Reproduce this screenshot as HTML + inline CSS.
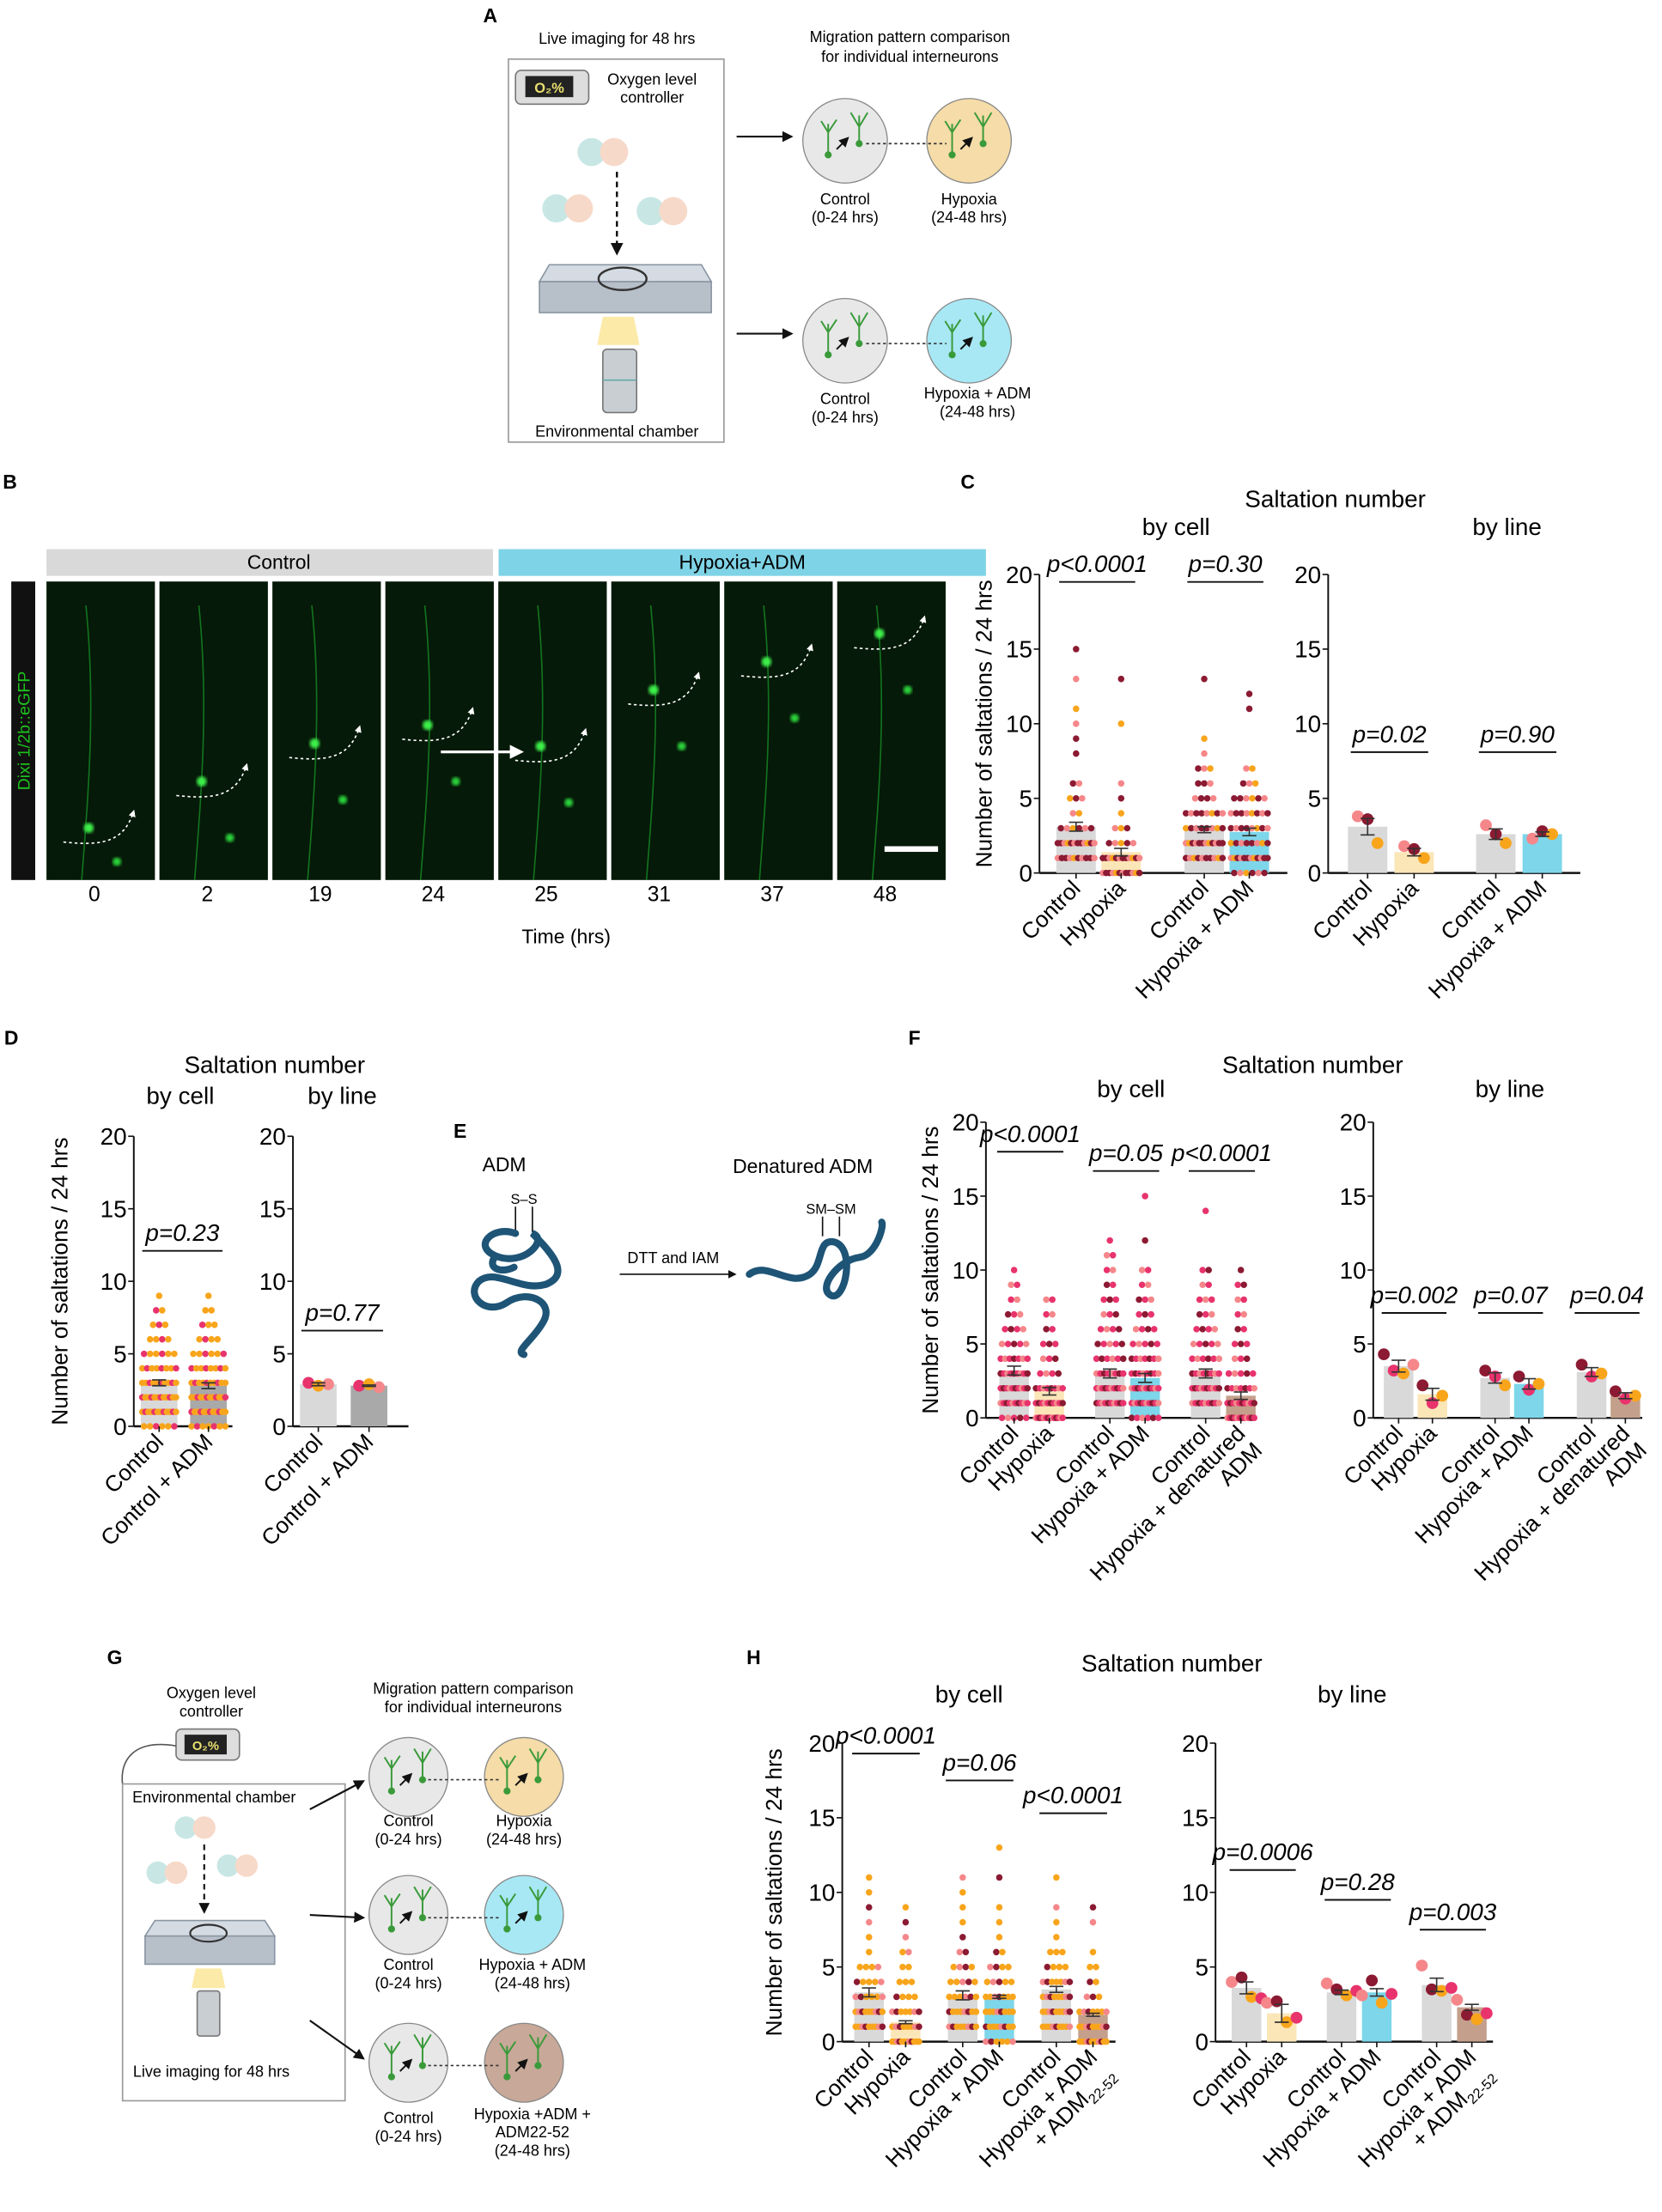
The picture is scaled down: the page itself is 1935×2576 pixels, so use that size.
<!DOCTYPE html>
<html><head><meta charset="utf-8">
<style>
html,body{margin:0;padding:0;background:#fff;}
svg{display:block;font-family:"Liberation Sans",Arial,sans-serif;}
</style></head>
<body>
<svg id="fig" width="1935" height="2576" viewBox="0 0 1180 1571" preserveAspectRatio="none" xmlns="http://www.w3.org/2000/svg">
<defs>
<filter id="blur1"><feGaussianBlur stdDeviation="1.2"/></filter>
<marker id="ah" markerWidth="6" markerHeight="6" refX="5" refY="3" orient="auto"><path d="M0,0 L6,3 L0,6 z" fill="#111"/></marker>
<marker id="ahw" markerWidth="5" markerHeight="5" refX="4" refY="2.5" orient="auto"><path d="M0,0 L5,2.5 L0,5 z" fill="#fff"/></marker>
</defs>

<!-- Panel A -->
<g>
<text x="343" y="16" font-size="14" font-weight="bold">A</text>
<text x="438" y="31" font-size="11" text-anchor="middle">Live imaging for 48 hrs</text>
<rect x="361" y="42" width="153" height="272" fill="#fff" stroke="#999" stroke-width="1"/>
<rect x="366" y="50" width="52" height="24" rx="4" fill="#ddd" stroke="#777"/>
<rect x="373" y="54" width="34" height="15" fill="#222"/>
<text x="390" y="66" font-size="10" fill="#e8e070" text-anchor="middle" font-weight="bold">O₂%</text>
<text x="463" y="60" font-size="11" text-anchor="middle">Oxygen level</text>
<text x="463" y="73" font-size="11" text-anchor="middle">controller</text>
<g opacity="0.85">
<circle cx="420" cy="108" r="10" fill="#bfe3e0"/><circle cx="436" cy="108" r="10" fill="#f6d3c0"/>
<circle cx="395" cy="148" r="10" fill="#bfe3e0"/><circle cx="411" cy="148" r="10" fill="#f6d3c0"/>
<circle cx="462" cy="150" r="10" fill="#bfe3e0"/><circle cx="478" cy="150" r="10" fill="#f6d3c0"/>
</g>
<line x1="438" y1="122" x2="438" y2="180" stroke="#111" stroke-width="1.5" stroke-dasharray="4,3" marker-end="url(#ah)"/>
<path d="M383,200 L505,200 L505,222 L383,222 z" fill="#b7bfc9" stroke="#8a96a3"/>
<path d="M390,188 L498,188 L505,200 L383,200 z" fill="#d5dbe2" stroke="#8a96a3"/>
<ellipse cx="442" cy="198" rx="17" ry="8" fill="none" stroke="#333" stroke-width="1.5"/>
<path d="M428,225 L450,225 L454,245 L424,245 z" fill="#fbeaa8"/>
<rect x="428" y="248" width="24" height="45" rx="3" fill="#c9ced3" stroke="#777"/>
<line x1="428" y1="270" x2="452" y2="270" stroke="#6aa"/>
<text x="438" y="310" font-size="11" text-anchor="middle">Environmental chamber</text>
<line x1="523" y1="97" x2="562" y2="97" stroke="#111" stroke-width="1.3" marker-end="url(#ah)"/>
<line x1="523" y1="237" x2="562" y2="237" stroke="#111" stroke-width="1.3" marker-end="url(#ah)"/>
<text x="646" y="30" font-size="11" text-anchor="middle">Migration pattern comparison</text>
<text x="646" y="44" font-size="11" text-anchor="middle">for individual interneurons</text>
<g id="aCircles"></g>
</g>

<!-- Panel B -->
<g>
<text x="2" y="347" font-size="14" font-weight="bold">B</text>
<rect x="33" y="390" width="317" height="19" fill="#d9d9d9"/>
<text x="198" y="404" font-size="14" text-anchor="middle">Control</text>
<rect x="354" y="390" width="346" height="19" fill="#7fd3e6"/>
<text x="527" y="404" font-size="14" text-anchor="middle">Hypoxia+ADM</text>
<rect x="8" y="413" width="17" height="212" fill="#111"/>
<text transform="translate(21,519) rotate(-90)" font-size="12" fill="#1dc11d" text-anchor="middle">Dixi 1/2b::eGFP</text>
<g id="micro"></g>
<text x="402" y="670" font-size="14" text-anchor="middle">Time (hrs)</text>
</g>

<!-- Panel E -->
<g>
<text x="322" y="808" font-size="14" font-weight="bold">E</text>
<text x="358" y="832" font-size="14" text-anchor="middle">ADM</text>
<text x="372" y="855" font-size="10" text-anchor="middle">S–S</text>
<line x1="366" y1="857" x2="366" y2="875" stroke="#111"/><line x1="378" y1="857" x2="378" y2="875" stroke="#111"/>
<path d="M366,876 C350,870 335,885 352,892 C372,900 390,880 378,876 C392,890 405,905 388,912 C370,918 352,900 340,910 C330,920 345,935 360,925 C375,915 395,925 385,940 C378,952 365,960 372,962 M352,892 C345,900 355,905 365,900" fill="none" stroke="#1e5476" stroke-width="5" stroke-linecap="round"/>
<line x1="440" y1="905" x2="522" y2="905" stroke="#111" stroke-width="1" marker-end="url(#ah)"/>
<text x="478" y="897" font-size="11" text-anchor="middle">DTT and IAM</text>
<text x="570" y="833" font-size="14" text-anchor="middle">Denatured ADM</text>
<text x="590" y="862" font-size="10" text-anchor="middle">SM–SM</text>
<line x1="584" y1="864" x2="584" y2="878" stroke="#111"/><line x1="596" y1="864" x2="596" y2="878" stroke="#111"/>
<path d="M532,905 C545,895 560,915 575,905 C585,898 580,880 592,882 C608,886 600,925 590,920 C580,915 595,895 610,893 C622,892 628,870 626,868" fill="none" stroke="#1e5476" stroke-width="5" stroke-linecap="round"/>
</g>

<!-- Panel G -->
<g>
<text x="76" y="1182" font-size="14" font-weight="bold">G</text>
<text x="150" y="1206" font-size="11" text-anchor="middle">Oxygen level</text>
<text x="150" y="1219" font-size="11" text-anchor="middle">controller</text>
<rect x="125" y="1228" width="45" height="22" rx="4" fill="#ddd" stroke="#777"/>
<rect x="131" y="1232" width="30" height="14" fill="#222"/>
<text x="146" y="1243" font-size="9" fill="#e8e070" text-anchor="middle" font-weight="bold">O₂%</text>
<path d="M125,1240 C95,1235 85,1250 87,1267" fill="none" stroke="#555"/>
<rect x="87" y="1267" width="158" height="225" fill="#fff" stroke="#999"/>
<text x="152" y="1280" font-size="11" text-anchor="middle">Environmental chamber</text>
<g opacity="0.85">
<circle cx="132" cy="1298" r="8" fill="#bfe3e0"/><circle cx="145" cy="1298" r="8" fill="#f6d3c0"/>
<circle cx="112" cy="1330" r="8" fill="#bfe3e0"/><circle cx="125" cy="1330" r="8" fill="#f6d3c0"/>
<circle cx="162" cy="1325" r="8" fill="#bfe3e0"/><circle cx="175" cy="1325" r="8" fill="#f6d3c0"/>
</g>
<line x1="145" y1="1310" x2="145" y2="1358" stroke="#111" stroke-width="1.3" stroke-dasharray="4,3" marker-end="url(#ah)"/>
<path d="M103,1375 L195,1375 L195,1395 L103,1395 z" fill="#b7bfc9" stroke="#8a96a3"/>
<path d="M110,1364 L188,1364 L195,1375 L103,1375 z" fill="#d5dbe2" stroke="#8a96a3"/>
<ellipse cx="148" cy="1373" rx="13" ry="6" fill="none" stroke="#333" stroke-width="1.3"/>
<path d="M139,1398 L157,1398 L160,1412 L136,1412 z" fill="#fbeaa8"/>
<rect x="140" y="1414" width="16" height="32" rx="2" fill="#c9ced3" stroke="#777"/>
<text x="150" y="1475" font-size="11" text-anchor="middle">Live imaging for 48 hrs</text>
<line x1="220" y1="1285" x2="258" y2="1265" stroke="#111" stroke-width="1.3" marker-end="url(#ah)"/>
<line x1="220" y1="1360" x2="258" y2="1362" stroke="#111" stroke-width="1.3" marker-end="url(#ah)"/>
<line x1="220" y1="1435" x2="258" y2="1462" stroke="#111" stroke-width="1.3" marker-end="url(#ah)"/>
<text x="336" y="1203" font-size="11" text-anchor="middle">Migration pattern comparison</text>
<text x="336" y="1216" font-size="11" text-anchor="middle">for individual interneurons</text>
<g id="gCircles"></g>
</g>

<g id="charts"></g>
</svg>

<script>
// ---------- Data: Panel C ----------
const cCellCats = ["Control","Hypoxia","Control","Hypoxia + ADM"];
const cCellMeans = [3.1, 1.4, 2.9, 2.75];
const cCellSem = [0.3, 0.25, 0.2, 0.25];
const cCellCounts = [
 [0,10,12,6,2,3,2,0,1,1,1,1,0,1,0,1],
 [12,12,5,3,1,1,1,0,0,0,1,0,0,1],
 [0,10,12,8,8,4,3,3,1,1,0,0,0,1],
 [6,12,8,8,8,6,3,2,0,0,0,1,1]
];
const cLineCats = ["Control","Hypoxia","Control","Hypoxia + ADM"];
const cLineMeans = [3.1, 1.4, 2.6, 2.6];
const cLineSem = [0.55, 0.25, 0.35, 0.15];
const cLineDots = [[3.8,3.6,2.0],[1.8,1.6,1.0],[3.2,2.6,2.0],[2.3,2.8,2.6]];
const cCellP = ["p<0.0001","p=0.30"];
const cCellPY = [19.5, 19.5];
const cLineP = ["p=0.02","p=0.90"];
const cLinePY = [8.1, 8.1];
// ---------- Data: Panel D ----------
const dCellCats = ["Control","Control + ADM"];
const dCellMeans = [3.0, 2.8];
const dCellSem = [0.2, 0.2];
const dCellCounts = [[6,12,12,10,8,6,4,3,2,1],[7,12,12,10,8,6,4,3,2,1]];
const dLineCats = ["Control","Control + ADM"];
const dLineMeans = [2.9, 2.8];
const dLineSem = [0.1, 0.05];
const dLineDots = [[3.0,2.8,2.9],[2.8,2.9,2.7]];
const dCellP = ["p=0.23"]; const dCellPY = [12.1];
const dLineP = ["p=0.77"]; const dLinePY = [6.6];
// ---------- Data: Panel F ----------
const fCellCats = ["Control","Hypoxia","Control","Hypoxia + ADM","Control","Hypoxia + denatured\nADM"];
const fCellMeans = [3.2, 1.8, 3.0, 2.7, 3.0, 1.5];
const fCellSem = [0.3, 0.25, 0.3, 0.3, 0.3, 0.25];
const fCellCounts = [
 [5,10,10,9,7,5,4,3,2,2,1],
 [14,10,8,4,3,3,2,2,2],
 [0,10,10,8,6,5,4,3,3,2,2,2,1],
 [6,10,10,8,7,5,4,3,3,2,2,0,1,0,0,1],
 [0,9,10,8,6,5,4,3,3,2,2,0,0,0,1],
 [12,10,7,5,3,3,2,2,2,2,1]
];
const fLineCats = ["Control","Hypoxia","Control","Hypoxia + ADM","Control","Hypoxia + denatured\nADM"];
const fLineMeans = [3.5, 1.6, 2.7, 2.3, 3.1, 1.5];
const fLineSem = [0.4, 0.4, 0.35, 0.35, 0.3, 0.2];
const fLineDots = [[4.3,3.2,3.0,3.6],[2.2,1.0,1.5],[3.2,2.8,2.2],[2.8,1.9,2.3],[3.6,2.8,3.0],[1.8,1.3,1.5]];
const fCellP = ["p<0.0001","p=0.05","p<0.0001"]; const fCellPY = [18.0,16.7,16.7];
const fLineP = ["p=0.002","p=0.07","p=0.04"]; const fLinePY = [7.1,7.1,7.1];
// ---------- Data: Panel H ----------
const hCellCats = ["Control","Hypoxia","Control","Hypoxia + ADM","Control","Hypoxia + ADM\n+ ADM22-52"];
const hCellMeans = [3.3, 1.3, 3.1, 3.0, 3.5, 1.8];
const hCellSem = [0.3, 0.1, 0.3, 0.1, 0.2, 0.1];
const hCellCounts = [
 [0,9,9,6,5,4,1,1,1,1,1,1],
 [12,8,7,4,3,2,2,1,1,1],
 [0,8,8,6,5,4,2,1,1,1,1,1],
 [6,8,8,7,5,4,2,1,1,1,0,1,0,1],
 [0,9,9,8,7,4,3,1,1,1,0,1],
 [12,9,7,3,2,2,1,0,1,1]
];
const hLineCats = hCellCats;
const hLineMeans = [3.6, 1.9, 3.3, 3.3, 3.8, 2.3];
const hLineSem = [0.4, 0.6, 0.15, 0.25, 0.45, 0.2];
const hLineDots = [[4.0,4.3,3.0,2.9],[2.6,2.7,1.3,1.6],[3.9,3.5,3.1,3.4],[3.1,4.1,2.6,3.2],[5.1,3.5,3.4,3.6],[2.8,1.8,1.5,1.9]];
const hCellP = ["p<0.0001","p=0.06","p<0.0001"]; const hCellPY = [19.3,17.5,15.3];
const hLineP = ["p=0.0006","p=0.28","p=0.003"]; const hLinePY = [11.5,9.5,7.5];

const NS = "http://www.w3.org/2000/svg";
const root = document.getElementById('charts');
function mk(tag, attrs, parent){
  const e = document.createElementNS(NS, tag);
  for (const k in attrs) e.setAttribute(k, attrs[k]);
  (parent||root).appendChild(e); return e;
}
const GRAY="#d9d9d9", TAN="#fbe6b8", CYAN="#7dd6ea", BROWN="#c4a08c";
const MAROON="#8b1a32", SALMON="#f5878a", ORANGE="#f8a51c", HOT="#e8336d";

function drawChart(name, L, cats, means, sems, counts, dots, pTexts, pY, barColors, palette){
  const g = mk('g', {});
  
  
  const yS = v => L.y0 - v*(L.y0-L.y20)/20;
  const xS = i => L.x1 + Math.floor(i/2)*L.pair + (i%2)*L.within;
  const ya = mk('line',{x1:L.ax,y1:L.y20,x2:L.ax,y2:L.y0,stroke:'#111','stroke-width':1.2},g);
   
  const xa = mk('line',{x1:L.ax,y1:L.y0,x2:L.xEnd,y2:L.y0,stroke:'#111','stroke-width':1.5},g);
   
  [0,5,10,15,20].forEach(t=>{
    mk('line',{x1:L.ax-4,y1:yS(t),x2:L.ax,y2:yS(t),stroke:'#111'},g);
    const tx = mk('text',{x:L.ax-5,y:yS(t)+6,'font-size':17,'text-anchor':'end'},g);
    tx.textContent = t;
     
  });
  if (L.ytitle){
    const yt = mk('text',{transform:`translate(${L.ytitle},${(L.y0+L.y20)/2}) rotate(-90)`,'font-size':16,'text-anchor':'middle'},g);
    yt.textContent = "Number of saltations / 24 hrs";
     
  }
  cats.forEach((c,i)=>{
    const x = xS(i);
    const b = mk('rect',{x:x-L.bw/2,y:yS(means[i]),width:L.bw,height:L.y0-yS(means[i]),fill:barColors[i]},g);
    
    
    if (counts){
      counts[i].forEach((n,v)=>{
        if(!n) return;
        const sp = Math.min(4.3, (L.bw-2)/Math.max(n-1,1));
        for(let k=0;k<n;k++){
          const dx = (k-(n-1)/2)*sp;
          const d = mk('circle',{cx:x+dx,cy:yS(v),r:2.3,fill:palette[(k+v+i)%palette.length]},g);
           
        }
      });
    } else {
      const n = dots[i].length;
      dots[i].forEach((v,k)=>{
        const dx = (k-(n-1)/2)*7;
        const d = mk('circle',{cx:x+dx,cy:yS(v),r:4.2,fill:palette[k%palette.length]},g);
         
      });
    }
    const m=means[i], s=sems[i];
    mk('line',{x1:x,y1:yS(m-s),x2:x,y2:yS(m+s),stroke:'#333','stroke-width':1},g);
    mk('line',{x1:x-5,y1:yS(m+s),x2:x+5,y2:yS(m+s),stroke:'#333','stroke-width':1},g);
    mk('line',{x1:x-5,y1:yS(m-s),x2:x+5,y2:yS(m-s),stroke:'#333','stroke-width':1},g);
    mk('line',{x1:x,y1:L.y0,x2:x,y2:L.y0+4,stroke:'#111'},g);
    const parts = c.split("\n");
    const t = mk('text',{transform:`translate(${x+4},${L.y0+12}) rotate(-45)`,'font-size':16,'text-anchor':'end'},g);
     
    parts.forEach((p,pi)=>{
      const ts = mk('tspan',{x:0,dy:pi?17:0},t);
      const mm = p.match(/^(.*ADM)(22-52)$/);
      if(mm){ ts.textContent = mm[1]; const sub = mk('tspan',{'font-size':10,dy:4},t); sub.textContent = mm[2]; }
      else ts.textContent = p;
    });
  });
  pTexts.forEach((p,j)=>{
    const xa1 = xS(2*j)-12, xa2 = xS(2*j+1)+10, yy = yS(pY[j]);
    mk('line',{x1:xa1,y1:yy,x2:xa2,y2:yy,stroke:'#111','stroke-width':1.2},g);
    const pt = mk('text',{x:(xa1+xa2)/2,y:yy-7,'font-size':17,'font-style':'italic','text-anchor':'middle'},g);
    pt.textContent = p;
     
  });
}

function title(x,y,txt,size,bold){
  const t = mk('text',{x:x,y:y,'font-size':size,'text-anchor':bold?'start':'middle','font-weight':bold?'bold':'normal'});
  t.textContent = txt;
  
  
}
title(682,347,"C",14,true);
title(948,360,"Saltation number",17);
title(835,380,"by cell",17); title(1070,380,"by line",17);
drawChart('chart-c-by-cell',{ax:738,y0:620,y20:408,x1:764,within:32,pair:91,bw:28,xEnd:914,ytitle:704},cCellCats,cCellMeans,cCellSem,cCellCounts,null,cCellP,cCellPY,[GRAY,TAN,GRAY,CYAN],[MAROON,SALMON,MAROON,MAROON,SALMON,ORANGE]);
drawChart('chart-c-by-line',{ax:943,y0:620,y20:408,x1:971,within:33,pair:91,bw:28,xEnd:1122},cLineCats,cLineMeans,cLineSem,null,cLineDots,cLineP,cLinePY,[GRAY,TAN,GRAY,CYAN],[SALMON,MAROON,ORANGE]);
title(3,742,"D",14,true);
title(195,762,"Saltation number",17);
title(128,784,"by cell",17); title(243,784,"by line",17);
drawChart('chart-d-by-cell',{ax:95,y0:1013,y20:807,x1:113,within:35,pair:70,bw:26,xEnd:165,ytitle:48},dCellCats,dCellMeans,dCellSem,dCellCounts,null,dCellP,dCellPY,[GRAY,"#a9a9a9"],[ORANGE,ORANGE,HOT]);
drawChart('chart-d-by-line',{ax:208,y0:1013,y20:807,x1:226,within:36,pair:70,bw:26,xEnd:290},dLineCats,dLineMeans,dLineSem,null,dLineDots,dLineP,dLinePY,[GRAY,"#a9a9a9"],[HOT,ORANGE,SALMON]);
title(645,742,"F",14,true);
title(932,762,"Saltation number",17);
title(803,779,"by cell",17); title(1072,779,"by line",17);
drawChart('chart-f-by-cell',{ax:700,y0:1007,y20:797,x1:720,within:25,pair:68,bw:21,xEnd:892,ytitle:666},fCellCats,fCellMeans,fCellSem,fCellCounts,null,fCellP,fCellPY,[GRAY,TAN,GRAY,CYAN,GRAY,BROWN],[HOT,SALMON,HOT,MAROON]);
drawChart('chart-f-by-line',{ax:975,y0:1007,y20:797,x1:993,within:24,pair:68.5,bw:21,xEnd:1166},fLineCats,fLineMeans,fLineSem,null,fLineDots,fLineP,fLinePY,[GRAY,TAN,GRAY,CYAN,GRAY,BROWN],[MAROON,HOT,ORANGE,SALMON]);
title(530,1182,"H",14,true);
title(832,1187,"Saltation number",17);
title(688,1209,"by cell",17); title(960,1209,"by line",17);
drawChart('chart-h-by-cell',{ax:598,y0:1450,y20:1238,x1:617,within:26,pair:66.5,bw:21,xEnd:792,ytitle:555},hCellCats,hCellMeans,hCellSem,hCellCounts,null,hCellP,hCellPY,[GRAY,TAN,GRAY,CYAN,GRAY,BROWN],[ORANGE,ORANGE,ORANGE,SALMON,MAROON]);
drawChart('chart-h-by-line',{ax:863,y0:1450,y20:1238,x1:885,within:25,pair:67.5,bw:21,xEnd:1060},hLineCats,hLineMeans,hLineSem,null,hLineDots,hLineP,hLinePY,[GRAY,TAN,GRAY,CYAN,GRAY,BROWN],[SALMON,MAROON,ORANGE,HOT]);

const micro = document.getElementById('micro');
const times = ["0","2","19","24","25","31","37","48"];
const somaY = [598,565,538,525,540,500,480,460];
times.forEach((t,i)=>{
  const x = 33 + i*80.2;
  const r = mk('rect',{x:x,y:413,width:77,height:212,fill:'#051a08'},micro);
   
  mk('path',{d:`M${x+25},${625} C${x+30},560 ${x+35},500 ${x+28},${430}`,stroke:'#1a9a2a','stroke-width':1,fill:'none',opacity:0.7},micro);
  mk('circle',{cx:x+30,cy:somaY[i]-10,r:3.5,fill:'#3df04a',filter:'url(#blur1)'},micro);
  mk('circle',{cx:x+50,cy:Math.min(somaY[i]+30,612),r:3,fill:'#2bd43a',filter:'url(#blur1)'},micro);
  mk('path',{d:`M${x+12},${somaY[i]} C${x+40},${somaY[i]+3} ${x+55},${somaY[i]} ${x+62},${somaY[i]-22}`,stroke:'#fff','stroke-width':1,'stroke-dasharray':'2,2',fill:'none','marker-end':'url(#ahw)'},micro);
  const tl = mk('text',{x:x+34,y:640,'font-size':15,'text-anchor':'middle'},micro);
  tl.textContent = t;
   
});
mk('line',{x1:313,y1:534,x2:370,y2:534,stroke:'#fff','stroke-width':2,'marker-end':'url(#ahw)'},micro);
mk('rect',{x:628,y:601,width:38,height:4,fill:'#fff'},micro);

function neuronCircle(parent,cx,cy,r,fill){
  mk('circle',{cx:cx,cy:cy,r:r,fill:fill,stroke:'#888','stroke-width':0.8},parent);
  mk('path',{d:`M${cx-12},${cy+10} L${cx-12},${cy-12} M${cx-12},${cy-6} L${cx-17},${cy-14} M${cx-12},${cy-6} L${cx-6},${cy-15} M${cx+10},${cy+2} L${cx+10},${cy-18} M${cx+10},${cy-10} L${cx+4},${cy-20} M${cx+10},${cy-10} L${cx+16},${cy-20}`,stroke:'#3a9a3a','stroke-width':1.2,fill:'none'},parent);
  mk('circle',{cx:cx-12,cy:cy+10,r:2.5,fill:'#3a9a3a'},parent);
  mk('circle',{cx:cx+10,cy:cy+2,r:2.5,fill:'#3a9a3a'},parent);
  mk('line',{x1:cx-6,y1:cy+6,x2:cx+2,y2:cy-2,stroke:'#111','stroke-width':1.2,'marker-end':'url(#ah)'},parent);
}
function lbl(parent,x,y,lines){
  lines.forEach((l,i)=>{ const t=mk('text',{x:x,y:y+i*13,'font-size':11,'text-anchor':'middle'},parent); t.textContent=l; });
}
const aC = document.getElementById('aCircles');
neuronCircle(aC,600,100,30,'#e8e8e8'); neuronCircle(aC,688,100,30,'#f5dca8');
mk('line',{x1:615,y1:102,x2:672,y2:102,stroke:'#333','stroke-dasharray':'2,2'},aC);
neuronCircle(aC,600,242,30,'#e8e8e8'); neuronCircle(aC,688,242,30,'#a8e8f5');
mk('line',{x1:615,y1:244,x2:672,y2:244,stroke:'#333','stroke-dasharray':'2,2'},aC);
lbl(aC,600,145,["Control","(0-24 hrs)"]); lbl(aC,688,145,["Hypoxia","(24-48 hrs)"]);
lbl(aC,600,287,["Control","(0-24 hrs)"]); lbl(aC,694,283,["Hypoxia + ADM","(24-48 hrs)"]);
const gC = document.getElementById('gCircles');
[[1262,'#f5dca8'],[1360,'#a8e8f5'],[1465,'#c8a898']].forEach(([cy,f])=>{
  neuronCircle(gC,290,cy,28,'#e8e8e8'); neuronCircle(gC,372,cy,28,f);
  mk('line',{x1:304,y1:cy+2,x2:356,y2:cy+2,stroke:'#333','stroke-dasharray':'2,2'},gC);
});
lbl(gC,290,1297,["Control","(0-24 hrs)"]); lbl(gC,372,1297,["Hypoxia","(24-48 hrs)"]);
lbl(gC,290,1399,["Control","(0-24 hrs)"]); lbl(gC,378,1399,["Hypoxia + ADM","(24-48 hrs)"]);
lbl(gC,290,1508,["Control","(0-24 hrs)"]); lbl(gC,378,1505,["Hypoxia +ADM +","ADM22-52","(24-48 hrs)"]);
</script>
</body></html>
